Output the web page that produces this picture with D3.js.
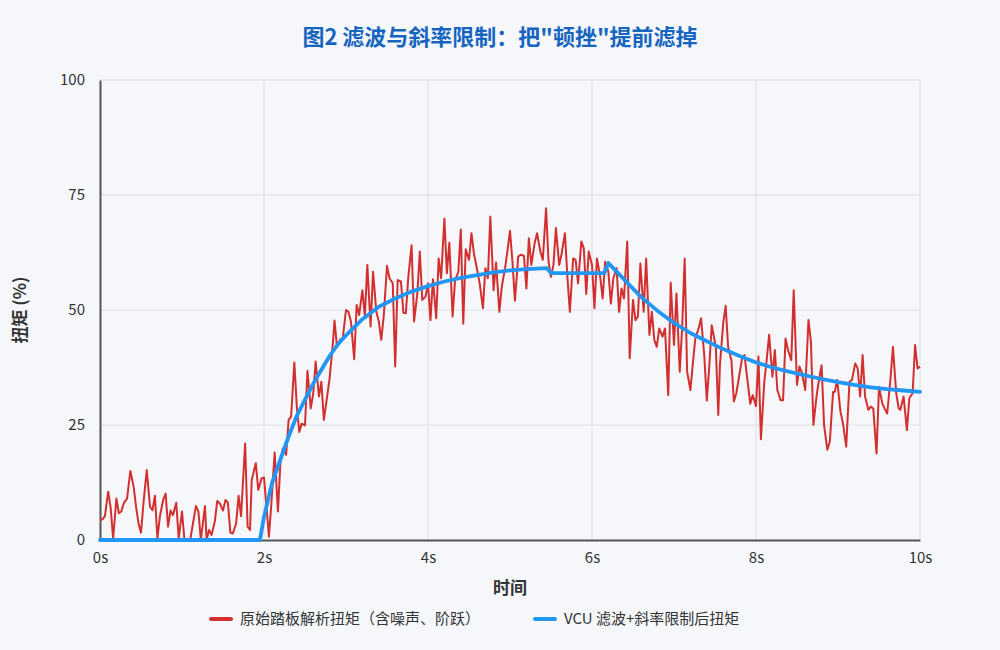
<!DOCTYPE html>
<html>
<head>
<meta charset="utf-8">
<script src="https://cdn.jsdelivr.net/npm/d3@7"></script>
<style>
  html, body { margin: 0; padding: 0; background: #f5f7fb; }
  body { width: 1000px; height: 650px; overflow: hidden; font-family: "Noto Sans CJK SC", "Noto Sans", sans-serif; }
  .grid line { stroke: #dfe1e6; stroke-width: 1.2; }
</style>
</head>
<body>
<div id="chart"></div>
<script>
// Chart text
const title = '图2 滤波与斜率限制：把"顿挫"提前滤掉'
const xTitle = '时间'
const yTitle = '扭矩 (%)'
const seriesNames = ['原始踏板解析扭矩（含噪声、阶跃）', 'VCU 滤波+斜率限制后扭矩']

// Tick labels
const xTicks = [0, 2, 4, 6, 8, 10]
const yTicks = [0, 25, 50, 75, 100]

// Raw pedal torque (noisy) – time in s, torque in %
const rawTime = [
  0, 0.03, 0.06, 0.10, 0.13, 0.16, 0.20, 0.23, 0.26, 0.29, 0.33, 0.37, 0.41, 0.44, 0.47, 0.50,
  0.53, 0.57, 0.61, 0.64, 0.67, 0.70, 0.73, 0.77, 0.80, 0.83, 0.86, 0.89, 0.93, 0.96, 1.00, 1.03,
  1.07, 1.10, 1.14, 1.17, 1.20, 1.23, 1.28, 1.30, 1.33, 1.36, 1.40, 1.43, 1.46, 1.50, 1.53, 1.56,
  1.59, 1.62, 1.66, 1.69, 1.72, 1.77, 1.80, 1.83, 1.85, 1.90, 1.93, 1.97, 2.00, 2.04, 2.06, 2.09,
  2.13, 2.17, 2.20, 2.23, 2.27, 2.30, 2.33, 2.37, 2.40, 2.43, 2.46, 2.50, 2.53, 2.57, 2.60, 2.63,
  2.67, 2.70, 2.73, 2.77, 2.80, 2.84, 2.86, 2.89, 2.93, 2.96, 3.00, 3.03, 3.06, 3.10, 3.13, 3.16,
  3.20, 3.23, 3.26, 3.30, 3.33, 3.37, 3.40, 3.43, 3.46, 3.50, 3.53, 3.57, 3.60, 3.63, 3.67, 3.70,
  3.73, 3.76, 3.80, 3.83, 3.87, 3.90, 3.93, 3.97, 4.00, 4.03, 4.06, 4.10, 4.13, 4.16, 4.20, 4.23,
  4.26, 4.30, 4.33, 4.37, 4.40, 4.43, 4.46, 4.50, 4.53, 4.56, 4.60, 4.63, 4.67, 4.70, 4.73, 4.76,
  4.80, 4.83, 4.87, 4.90, 4.94, 4.97, 5.00, 5.03, 5.06, 5.10, 5.13, 5.17, 5.20, 5.23, 5.26, 5.30,
  5.33, 5.37, 5.40, 5.44, 5.47, 5.50, 5.53, 5.56, 5.60, 5.63, 5.67, 5.70, 5.73, 5.77, 5.80, 5.83,
  5.87, 5.90, 5.93, 5.96, 6.00, 6.03, 6.06, 6.10, 6.13, 6.16, 6.20, 6.23, 6.26, 6.30, 6.33, 6.36,
  6.39, 6.43, 6.46, 6.50, 6.53, 6.56, 6.59, 6.63, 6.66, 6.70, 6.73, 6.76, 6.79, 6.82, 6.86, 6.89,
  6.93, 6.96, 7.00, 7.03, 7.07, 7.10, 7.13, 7.16, 7.20, 7.23, 7.26, 7.30, 7.33, 7.37, 7.40, 7.43,
  7.46, 7.51, 7.54, 7.56, 7.60, 7.63, 7.66, 7.70, 7.73, 7.76, 7.80, 7.83, 7.86, 7.90, 7.93, 7.96,
  8.00, 8.03, 8.06, 8.10, 8.13, 8.16, 8.20, 8.23, 8.26, 8.30, 8.33, 8.36, 8.39, 8.43, 8.46, 8.50,
  8.53, 8.56, 8.60, 8.64, 8.67, 8.70, 8.74, 8.77, 8.80, 8.83, 8.87, 8.90, 8.94, 8.96, 8.99, 9.03,
  9.06, 9.10, 9.14, 9.17, 9.21, 9.24, 9.27, 9.30, 9.33, 9.37, 9.40, 9.43, 9.47, 9.50, 9.54, 9.57,
  9.60, 9.64, 9.67, 9.71, 9.74, 9.76, 9.80, 9.84, 9.87, 9.91, 9.94, 9.97, 10.00
]
const rawTorque = [
  4.3, 4.5, 5.2, 10.5, 7.0, 0.3, 9.0, 5.8, 6.2, 8.0, 9.0, 15.0, 11.6, 7.2, 3.6, 1.6,
  8.0, 15.2, 7.2, 6.5, 9.6, 0.3, 5.1, 8.7, 10.1, 2.9, 6.4, 5.4, 8.1, 0.3, 6.2, 0,
  0, 0, 4.3, 7.4, 6.2, 0, 7.4, 0, 2.2, 1.1, 4.0, 8.5, 8.0, 6.4, 8.7, 8.1,
  1.6, 1.4, 3.6, 9.6, 5.2, 21.0, 2.9, 2.2, 13.0, 16.7, 10.9, 13.4, 13.6, 5.1, 0.7, 8.0,
  19.0, 6.2, 16.7, 19.9, 18.5, 26.1, 26.8, 38.6, 29.0, 23.5, 25.3, 24.9, 36.8, 28.6, 31.8, 38.8,
  31.2, 34.4, 26.1, 31.2, 35.1, 42.8, 47.7, 42.0, 43.6, 43.8, 50.0, 49.6, 47.5, 39.3, 51.1, 48.9,
  54.3, 48.6, 59.8, 46.4, 58.3, 49.6, 47.5, 43.5, 48.6, 59.6, 56.9, 55.8, 37.7, 56.5, 56.2, 49.4,
  49.3, 57.2, 64.1, 47.5, 53.6, 62.7, 52.2, 52.9, 55.8, 47.8, 56.7, 48.2, 61.2, 56.9, 69.9, 58.0,
  64.6, 48.6, 56.5, 58.3, 67.5, 47.0, 63.2, 60.9, 66.7, 62.3, 58.7, 55.8, 50.4, 59.1, 56.9, 70.3,
  54.3, 60.3, 49.6, 55.1, 59.1, 63.0, 67.2, 60.5, 52.0, 61.6, 62.0, 61.8, 54.7, 65.6, 59.8, 64.5,
  66.7, 62.7, 60.9, 72.1, 60.5, 57.2, 59.8, 67.8, 59.8, 62.3, 66.7, 57.2, 49.6, 61.2, 60.9, 55.8,
  64.9, 63.4, 53.5, 62.7, 59.8, 50.4, 61.2, 57.2, 52.5, 60.5, 58.3, 51.4, 56.9, 59.1, 49.6, 54.7,
  52.5, 64.9, 39.5, 52.2, 47.8, 48.6, 60.1, 49.6, 61.2, 44.6, 49.6, 43.5, 42.0, 46.0, 44.2, 46.0,
  31.5, 55.9, 42.4, 53.6, 36.6, 46.4, 61.2, 36.6, 32.6, 38.4, 43.8, 46.0, 48.2, 39.9, 30.3, 37.7,
  46.7, 42.0, 27.2, 38.0, 47.1, 50.9, 42.0, 39.1, 30.1, 31.9, 36.2, 39.5, 40.2, 34.1, 29.6, 31.5,
  29.1, 39.9, 21.9, 34.1, 39.1, 44.6, 35.5, 41.3, 32.6, 30.4, 30.4, 43.8, 41.3, 39.1, 54.3, 33.7,
  37.7, 36.4, 32.6, 47.8, 43.1, 25.0, 31.5, 35.0, 38.0, 25.0, 19.6, 21.4, 32.2, 32.2, 34.8, 27.9,
  25.4, 20.3, 34.4, 34.8, 38.4, 37.3, 31.2, 40.2, 31.2, 28.3, 29.0, 28.6, 18.8, 33.3, 29.7, 28.5,
  27.5, 35.0, 42.0, 31.9, 28.6, 28.3, 31.2, 23.9, 30.8, 31.9, 42.4, 37.3, 37.7
]

// VCU filtered + rate-limited torque
const vcuTime = [
  0, 1.95, 2.00, 2.10, 2.20, 2.30, 2.40, 2.50, 2.60, 2.70, 2.80, 2.90, 3.00, 3.20, 3.40, 3.60,
  3.80, 4.00, 4.20, 4.40, 4.60, 4.80, 5.00, 5.20, 5.45, 5.50, 6.15, 6.20, 6.40, 6.60, 6.80, 7.00,
  7.20, 7.40, 7.60, 7.80, 8.00, 8.20, 8.40, 8.60, 8.80, 9.00, 9.20, 9.40, 9.60, 9.80, 10.00
]
const vcuTorque = [
  0, 0, 5.0, 12.5, 17.5, 22.5, 27.0, 30.5, 34.0, 37.0, 40.0, 42.5, 44.5, 48.0, 50.7, 52.5,
  54.0, 55.2, 56.2, 57.0, 57.6, 58.2, 58.6, 58.9, 59.1, 58.0, 58.0, 60.2, 56.5, 52.8, 49.8, 47.2,
  45.0, 43.2, 41.5, 40.0, 38.6, 37.5, 36.6, 35.8, 35.0, 34.3, 33.7, 33.2, 32.8, 32.5, 32.2
]

const colors = ['#d32f2f', '#2196f3']

// Layout
const width = 1000
const height = 650
const margin = { top: 80, right: 80, bottom: 110, left: 100 }
const innerW = width - margin.left - margin.right
const innerH = height - margin.top - margin.bottom

const svg = d3.select('#chart').append('svg')
  .attr('width', width)
  .attr('height', height)

// Title
svg.append('text')
  .attr('x', width / 2)
  .attr('y', 45)
  .attr('text-anchor', 'middle')
  .style('font-size', '22px')
  .style('font-weight', '700')
  .style('fill', '#1565c0')
  .text(title)

const g = svg.append('g')
  .attr('transform', `translate(${margin.left}, ${margin.top})`)

// Scales
const x = d3.scaleLinear().domain([0, 10]).range([0, innerW])
const y = d3.scaleLinear().domain([0, 100]).range([innerH, 0])

// Grid
g.append('g')
  .attr('class', 'grid')
  .selectAll('line.h')
  .data(yTicks.filter(d => d > 0))
  .enter()
  .append('line')
  .attr('x1', 0)
  .attr('x2', innerW)
  .attr('y1', d => y(d))
  .attr('y2', d => y(d))

g.append('g')
  .attr('class', 'grid')
  .selectAll('line.v')
  .data(xTicks.filter(d => d > 0))
  .enter()
  .append('line')
  .attr('x1', d => x(d))
  .attr('x2', d => x(d))
  .attr('y1', 0)
  .attr('y2', innerH)

// Axes
const xAxis = d3.axisBottom(x)
  .tickValues(xTicks)
  .tickSize(0)
  .tickPadding(12)
  .tickFormat(d => d + 's')
const yAxis = d3.axisLeft(y)
  .tickValues(yTicks)
  .tickSize(0)
  .tickPadding(15)

const gx = g.append('g')
  .attr('transform', `translate(0, ${innerH})`)
  .call(xAxis)
const gy = g.append('g').call(yAxis)

for (const ax of [gx, gy]) {
  ax.select('.domain').attr('stroke', '#555').attr('stroke-width', 2)
  ax.selectAll('.tick text')
    .style('font-family', '"Noto Sans CJK SC", "Noto Sans", sans-serif')
    .style('font-size', '15px')
    .style('fill', '#333')
}

// Axis titles
svg.append('text')
  .attr('x', margin.left + innerW / 2)
  .attr('y', 594)
  .attr('text-anchor', 'middle')
  .style('font-size', '17px')
  .style('font-weight', '700')
  .style('fill', '#333')
  .text(xTitle)

svg.append('text')
  .attr('transform', `translate(26, ${margin.top + innerH / 2}) rotate(-90)`)
  .attr('text-anchor', 'middle')
  .style('font-size', '17px')
  .style('font-weight', '700')
  .style('fill', '#333')
  .text(yTitle)

// Lines
const line = d3.line()
  .x(d => x(d[0]))
  .y(d => y(d[1]))

const rawData = rawTime.map((t, i) => [t, rawTorque[i]])
const vcuData = vcuTime.map((t, i) => [t, vcuTorque[i]])

g.append('path')
  .datum(rawData)
  .attr('fill', 'none')
  .attr('stroke', colors[0])
  .attr('stroke-width', 2)
  .attr('stroke-linejoin', 'round')
  .attr('d', line)

g.append('path')
  .datum(vcuData)
  .attr('fill', 'none')
  .attr('stroke', colors[1])
  .attr('stroke-width', 3.8)
  .attr('stroke-linejoin', 'round')
  .attr('stroke-linecap', 'round')
  .attr('d', line)

// Legend
const legendX = [211, 535]
const legend = svg.append('g')
  .selectAll('g')
  .data(seriesNames)
  .enter()
  .append('g')
  .attr('transform', (_, i) => `translate(${legendX[i]}, 619)`)

legend.append('line')
  .attr('x1', 0)
  .attr('x2', 20)
  .attr('stroke', (_, i) => colors[i])
  .attr('stroke-width', 4)
  .attr('stroke-linecap', 'round')

legend.append('text')
  .attr('x', 29)
  .attr('y', 5)
  .style('font-size', '15px')
  .style('fill', '#333')
  .text(d => d)
</script>
</body>
</html>
